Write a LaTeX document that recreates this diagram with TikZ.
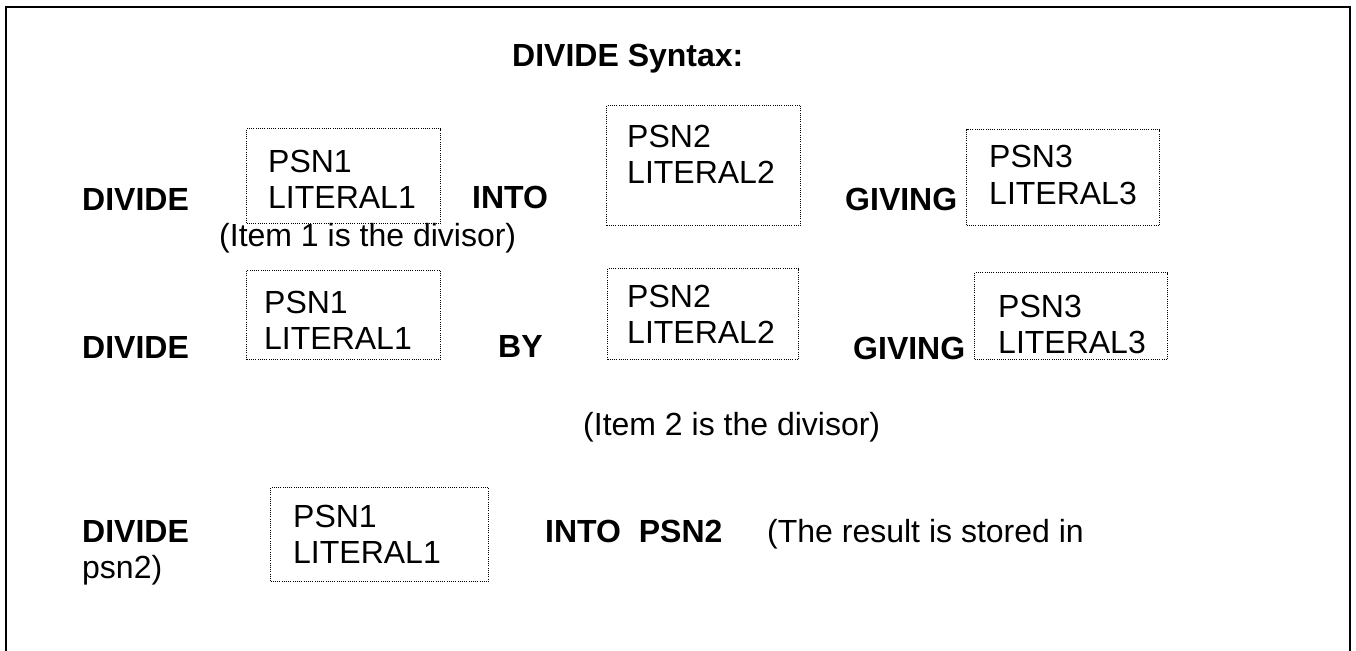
\documentclass[tikz,border=0pt]{standalone}
\usepackage{fontspec}
\setmainfont{Liberation Sans}
\begin{document}
\begin{tikzpicture}[x=1pt,y=-1pt,
  txt/.style={anchor=base west, inner sep=0pt, font=\fontsize{32}{37}\selectfont},
  kw/.style={anchor=base west, inner sep=0pt, font=\fontsize{32}{37}\selectfont\bfseries},
  operand/.style={draw=black, line width=1pt, dash pattern=on 1pt off 1.2pt,
                  inner sep=0pt, anchor=north west},
]
\useasboundingbox (0,0) rectangle (1356,650);
% open frame (no bottom edge)
\draw[line width=2pt] (6,652) -- (6,7) -- (1350,7) -- (1350,652);

\node[kw] (title) at (512,67) {DIVIDE Syntax:};

% first form: DIVIDE ... INTO ... GIVING
\node[kw] (r1div) at (82,210) {DIVIDE};
\node[operand, minimum width=194pt, minimum height=95pt] (r1b1) at (246,128) {};
\node[txt] (r1b1a) at (268,172) {PSN1};
\node[txt] (r1b1b) at (268,208) {LITERAL1};
\node[kw] (r1into) at (472,208) {INTO};
\node[txt] (r1note) at (219,246) {(Item 1 is the divisor)};
\node[operand, minimum width=194pt, minimum height=120pt] (r1b2) at (606,105) {};
\node[txt] (r1b2a) at (627,147) {PSN2};
\node[txt] (r1b2b) at (627,183) {LITERAL2};
\node[kw] (r1giv) at (845,210) {GIVING};
\node[operand, minimum width=193pt, minimum height=96pt] (r1b3) at (966,129) {};
\node[txt] (r1b3a) at (989,167) {PSN3};
\node[txt] (r1b3b) at (989,204) {LITERAL3};

% second form: DIVIDE ... BY ... GIVING
\node[kw] (r2div) at (82,358) {DIVIDE};
\node[operand, minimum width=194pt, minimum height=89pt] (r2b1) at (246,270) {};
\node[txt] (r2b1a) at (264,313) {PSN1};
\node[txt] (r2b1b) at (264,349) {LITERAL1};
\node[kw] (r2by) at (498,357) {BY};
\node[operand, minimum width=191pt, minimum height=91pt] (r2b2) at (607,268) {};
\node[txt] (r2b2a) at (627,307) {PSN2};
\node[txt] (r2b2b) at (627,343) {LITERAL2};
\node[kw] (r2giv) at (853,359) {GIVING};
\node[operand, minimum width=193pt, minimum height=87pt] (r2b3) at (974,272) {};
\node[txt] (r2b3a) at (998,317) {PSN3};
\node[txt] (r2b3b) at (998,353) {LITERAL3};
\node[txt] (r2note) at (583,435) {(Item 2 is the divisor)};

% third form: DIVIDE ... INTO PSN2
\node[kw] (r3div) at (82,542) {DIVIDE};
\node[txt] (r3tail) at (82,578) {psn2)};
\node[operand, minimum width=218pt, minimum height=94pt] (r3b1) at (270,487) {};
\node[txt] (r3b1a) at (293,527) {PSN1};
\node[txt] (r3b1b) at (293,563) {LITERAL1};
\node[kw] (r3into) at (545,542) {INTO\ \ PSN2};
\node[txt] (r3note) at (767,542) {(The result is stored in};
\end{tikzpicture}
\end{document}
